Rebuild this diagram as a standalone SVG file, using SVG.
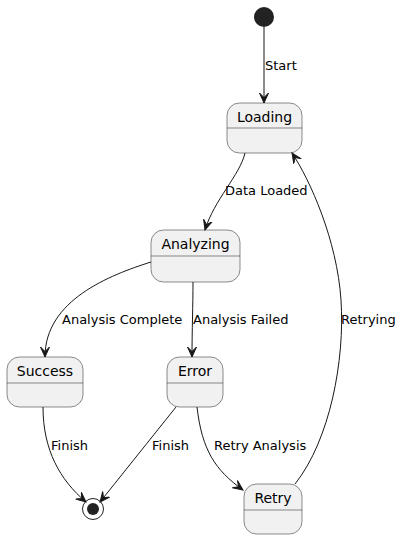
<svg xmlns="http://www.w3.org/2000/svg" width="403" height="539" viewBox="0 0 403 539">
<defs>
<style>
.st rect{fill:#F1F1F1;stroke:#181818;stroke-width:0.5}
.st line{stroke:#181818;stroke-width:0.5}
.st text{font-family:"DejaVu Sans",sans-serif;font-size:14px;fill:#000;text-anchor:middle}
.e path{fill:none;stroke:#181818;stroke-width:1}
.lbl{font-family:"DejaVu Sans",sans-serif;font-size:13px;fill:#000}
</style>
<marker id="ah" markerUnits="userSpaceOnUse" markerWidth="12" markerHeight="12" viewBox="-10 -6 12 12" refX="0" refY="0" orient="auto">
<path d="M0,0 L-10,-4.5 L-5.5,0 L-10,4.5 Z" fill="#181818" stroke="#181818" stroke-width="1"/>
</marker>
</defs>
<rect width="403" height="539" fill="#FFFFFF"/>
<g id="start"><circle cx="264" cy="17" r="10" fill="#222222"/></g>
<g id="Loading" class="st"><rect x="227" y="103" width="75" height="50" rx="12.5"/><line x1="227" y1="128" x2="302" y2="128"/><text x="264.5" y="122">Loading</text></g>
<g id="Analyzing" class="st"><rect x="151" y="230" width="89" height="52" rx="12.5"/><line x1="151" y1="256" x2="240" y2="256"/><text x="195.5" y="249">Analyzing</text></g>
<g id="Success" class="st"><rect x="7" y="357" width="76" height="50" rx="12.5"/><line x1="7" y1="383" x2="83" y2="383"/><text x="45" y="376">Success</text></g>
<g id="Error" class="st"><rect x="167" y="357" width="56" height="50" rx="12.5"/><line x1="167" y1="383" x2="223" y2="383"/><text x="195" y="376">Error</text></g>
<g id="Retry" class="st"><rect x="244" y="484" width="58" height="50" rx="12.5"/><line x1="244" y1="510" x2="302" y2="510"/><text x="273" y="503">Retry</text></g>
<g id="end"><circle cx="93" cy="509" r="10.5" fill="none" stroke="#222222" stroke-width="1"/><circle cx="93" cy="509" r="6" fill="#222222"/></g>
<g id="connectors" class="e">
<path d="M264,27 L264,103" marker-end="url(#ah)"/>
<path d="M245,153 C240,175 214,200 205,230" marker-end="url(#ah)"/>
<path d="M151,262 C110,275 45,300 45,357" marker-end="url(#ah)"/>
<path d="M193,282 C193,305 192,330 192,357" marker-end="url(#ah)"/>
<path d="M43,407 C43,450 60,480 86,502" marker-end="url(#ah)"/>
<path d="M176,407 L100,502" marker-end="url(#ah)"/>
<path d="M197,407 C202,450 215,470 243,490" marker-end="url(#ah)"/>
<path d="M295,484 C330,440 345,360 341,300 C337,240 310,180 292,153" marker-end="url(#ah)"/>
</g>
<g id="labels" class="lbl">
<text x="265" y="70">Start</text>
<text x="225" y="195">Data Loaded</text>
<text x="62" y="324">Analysis Complete</text>
<text x="193" y="324">Analysis Failed</text>
<text x="341" y="324">Retrying</text>
<text x="51" y="450">Finish</text>
<text x="152" y="450">Finish</text>
<text x="214" y="450">Retry Analysis</text>
</g>
</svg>
